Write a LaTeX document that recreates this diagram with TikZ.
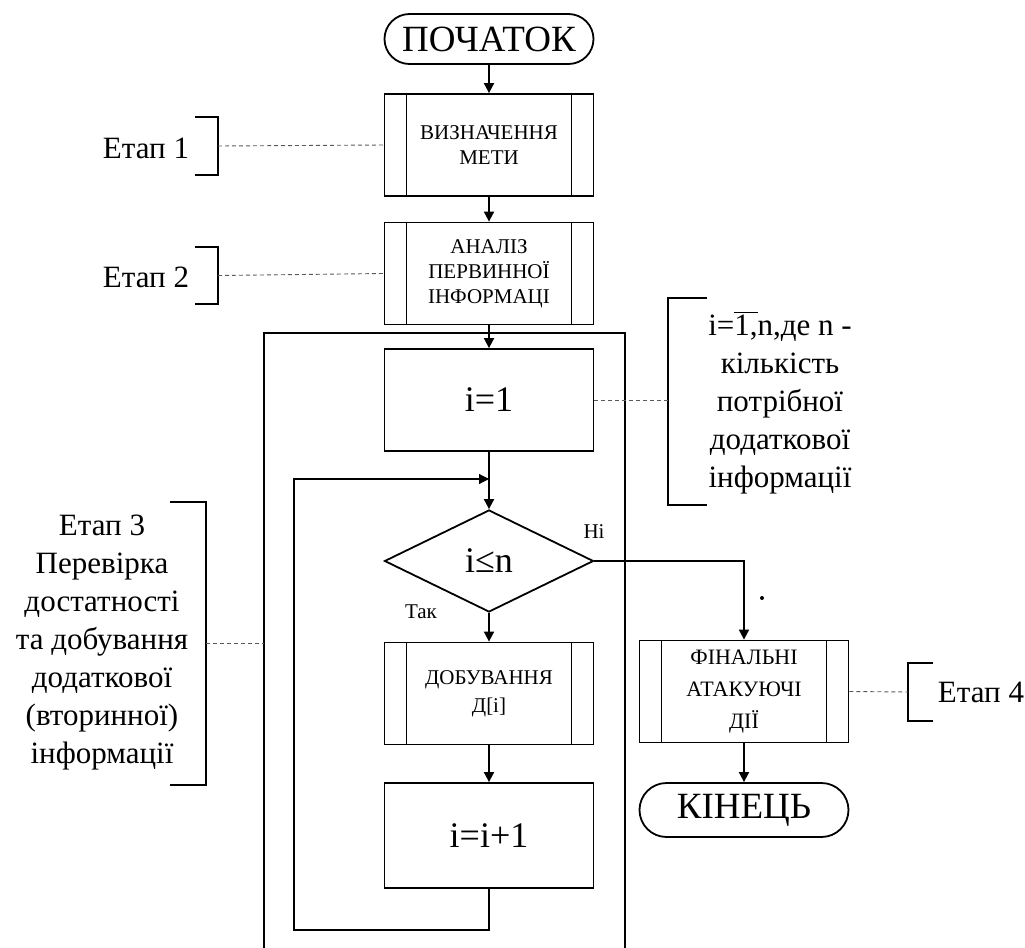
\documentclass[tikz,border=0pt]{standalone}
\usepackage{fontspec}
\setmainfont{Liberation Serif}
\usetikzlibrary{shapes.geometric,arrows.meta}

\begin{document}
\begin{tikzpicture}[x=0.5pt,y=-0.5pt, line width=0.9pt,
	term/.style={draw, minimum width=104.5pt, minimum height=25pt, inner sep=0pt, rounded corners=12.5pt, font=\fontsize{18.5}{20}\selectfont},
	sub/.style={draw, minimum width=104.5pt, minimum height=51pt, inner sep=0pt, align=center, font=\fontsize{10.5}{12.5}\selectfont,
		path picture={\draw ([xshift=11pt]path picture bounding box.north west) -- ([xshift=11pt]path picture bounding box.south west)
			([xshift=-11pt]path picture bounding box.north east) -- ([xshift=-11pt]path picture bounding box.south east);}},
	proc/.style={draw, minimum width=104.5pt, minimum height=51pt, inner sep=0pt, font=\fontsize{18}{20}\selectfont},
	cond/.style={draw, diamond, minimum width=104.5pt, minimum height=51pt, inner sep=0pt, font=\fontsize{18}{20}\selectfont},
	note/.style={align=center, inner sep=0pt, font=\fontsize{15.5}{19}\selectfont},
	tag/.style={inner sep=0pt, font=\fontsize{10.5}{12}\selectfont},
	link/.style={line width=0.45pt, gray!70!black, dash pattern=on 2pt off 1.5pt},
	flow/.style={-{Triangle[length=5pt,width=5pt]}}]
	\useasboundingbox (0,0) rectangle (1025,948);
		% main column
		\node [term] (start) at (489,39) {ПОЧАТОК};
		\node [sub] (b1) at (489,145) {ВИЗНАЧЕННЯ\\МЕТИ};
		\node [sub] (b2) at (489,273.5) {АНАЛІЗ\\ПЕРВИННОЇ\\ІНФОРМАЦІ};
		\node [proc] (i1) at (489,400) {i=1};
		\node [cond] (test) at (489,561) {i≤n};
		\node [sub, font=\fontsize{10.5}{14}\selectfont] (dob) at (489,693.5) {ДОБУВАННЯ\\Д[і]};
		\node [proc, minimum height=52.5pt] (inc) at (489,835.5) {i=i+1};
		% exit column
		\node [sub, font=\fontsize{11}{16}\selectfont] (fin) at (744,691.5) {ФІНАЛЬНІ\\АТАКУЮЧІ\\ДІЇ};
		\node [term, minimum height=27pt, rounded corners=13.5pt] (end) at (744,810) {КІНЕЦЬ};
		\node [tag] (yes) at (421,612) {Так};
		\node [tag] (no) at (594,532) {Ні};
		\fill (762,598) circle (1pt);
		% loop frame
		\draw (264,948) |- (625,333) -- (625,948);
		\coordinate (lp) at (294,930);
		\coordinate (lq) at (489,479);
		\path[flow]
					(start) edge (b1)
					(b1) edge (b2)
					(b2) edge (i1)
					(i1) edge (test)
					(test) edge (dob)
					(dob) edge (inc)
					(fin) edge (end);
		\draw[flow] (test.east) -| (fin.north);
		\draw[flow, line width=0.6pt] (inc.south) |- (lp) |- (lq);
		% stages
		\node [note] (e1) at (146,148) {Етап 1};
		\node [note] (e2) at (146,277) {Етап 2};
		\node [note] (e3) at (102,643) {Етап 3\\Перевірка\\достатності\\та добування\\додаткової\\(вторинної)\\інформації};
		\node [note] (e4) at (981,692) {Етап 4};
		\node [note] (ni) at (780,403) {i=$\overline{\mbox{1,}}$n,де n -\\кількість\\потрібної\\додаткової\\інформації};
		\draw (195,117) -| (218,175) -- (195,175);
		\draw (195,247) -| (218,304) -- (195,304);
		\draw (170,502) -| (206,785) -- (170,785);
		\draw (933,663) -| (908,721) -- (933,721);
		\draw (707,298) -| (668,505) -- (707,505);
		\coordinate (k1) at (218,146);
		\coordinate (k2) at (218,275.5);
		\coordinate (k3) at (206,643);
		\coordinate (f3) at (264,643);
		\coordinate (k4) at (908,692);
		\coordinate (kn) at (668,400);
		\draw[link] (k1) -- (b1.west);
		\draw[link] (k2) -- (b2.west);
		\draw[link] (k3) -- (f3);
		\draw[link] (fin.east) -- (k4);
		\draw[link] (i1.east) -- (kn);
\end{tikzpicture}
\end{document}
